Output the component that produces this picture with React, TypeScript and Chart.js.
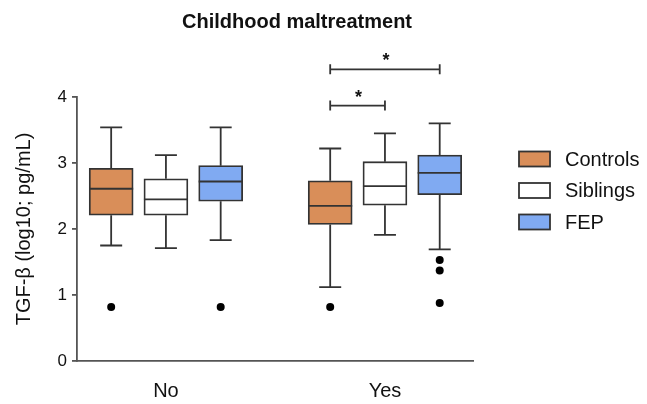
import { useEffect, useRef } from 'react';
import { Chart, registerables } from 'chart.js';

Chart.register(...registerables);

const chartTitle = 'Childhood maltreatment';
const yAxisTitle = 'TGF-β (log10; pg/mL)';
const categories = ['No', 'Yes'];
const seriesNames = ['Controls', 'Siblings', 'FEP'];
const seriesColors = ['#D98E59', '#FFFFFF', '#80AAF2'];
const yTicks = [0, 1, 2, 3, 4];

// values per category: [No, Yes]
const controlsMin = [1.75, 1.12];
const controlsQ1 = [2.21, 2.07];
const controlsMedian = [2.61, 2.35];
const controlsQ3 = [2.92, 2.73];
const controlsMax = [3.54, 3.22];
const controlsOutliers = [[0.82], [0.82]];

const siblingsMin = [1.71, 1.91];
const siblingsQ1 = [2.21, 2.36];
const siblingsMedian = [2.45, 2.65];
const siblingsQ3 = [2.76, 3.02];
const siblingsMax = [3.12, 3.45];
const siblingsOutliers: number[][] = [[], []];

const fepMin = [1.83, 1.69];
const fepQ1 = [2.42, 2.52];
const fepMedian = [2.72, 2.85];
const fepQ3 = [2.96, 3.12];
const fepMax = [3.54, 3.6];
const fepOutliers = [[0.82], [1.53, 1.37, 0.88]];

// significance comparisons within a category: series index from -> to, at a bracket level
const compCategory = [1, 1];
const compFrom = [0, 0];
const compTo = [2, 1];
const compLevel = [4.42, 3.87];
const compLabel = ['*', '*'];

const stats = [
  { min: controlsMin, q1: controlsQ1, med: controlsMedian, q3: controlsQ3, max: controlsMax, out: controlsOutliers },
  { min: siblingsMin, q1: siblingsQ1, med: siblingsMedian, q3: siblingsQ3, max: siblingsMax, out: siblingsOutliers },
  { min: fepMin, q1: fepQ1, med: fepMedian, q3: fepQ3, max: fepMax, out: fepOutliers },
];

const OFFSETS = [-0.25, 0, 0.25];
const FONT = '"Liberation Sans", Arial, Helvetica, sans-serif';
const LINE = '#333333';
const LW = 1.8;

const boxPlugin = {
  id: 'boxExtras',
  beforeDatasetsDraw(chart: any) {
    const { ctx, scales } = chart;
    const xs = scales.x, ys = scales.y;
    ctx.save();
    ctx.strokeStyle = LINE;
    ctx.lineWidth = LW;
    stats.forEach((s, i) => {
      categories.forEach((_, g) => {
        const x = xs.getPixelForValue(g + OFFSETS[i]);
        const capHalf = 11;
        const yMin = ys.getPixelForValue(s.min[g]);
        const yMax = ys.getPixelForValue(s.max[g]);
        const yQ1 = ys.getPixelForValue(s.q1[g]);
        const yQ3 = ys.getPixelForValue(s.q3[g]);
        ctx.beginPath();
        ctx.moveTo(x, yQ1); ctx.lineTo(x, yMin);
        ctx.moveTo(x - capHalf, yMin); ctx.lineTo(x + capHalf, yMin);
        ctx.moveTo(x, yQ3); ctx.lineTo(x, yMax);
        ctx.moveTo(x - capHalf, yMax); ctx.lineTo(x + capHalf, yMax);
        ctx.stroke();
      });
    });
    ctx.restore();
  },
  afterDatasetsDraw(chart: any) {
    const { ctx, scales } = chart;
    const xs = scales.x, ys = scales.y;
    ctx.save();
    ctx.strokeStyle = LINE;
    ctx.lineWidth = LW;
    stats.forEach((s, i) => {
      categories.forEach((_, g) => {
        const x = xs.getPixelForValue(g + OFFSETS[i]);
        const half = 22;
        const y = ys.getPixelForValue(s.med[g]);
        ctx.beginPath();
        ctx.moveTo(x - half, y); ctx.lineTo(x + half, y);
        ctx.stroke();
      });
    });
    // significance brackets
    compLevel.forEach((lvl, k) => {
      const g = compCategory[k];
      const x1 = xs.getPixelForValue(g + OFFSETS[compFrom[k]]);
      const x2 = xs.getPixelForValue(g + OFFSETS[compTo[k]]);
      const y = ys.getPixelForValue(lvl);
      ctx.beginPath();
      ctx.moveTo(x1, y); ctx.lineTo(x2, y);
      ctx.moveTo(x1, y - 5); ctx.lineTo(x1, y + 5);
      ctx.moveTo(x2, y - 5); ctx.lineTo(x2, y + 5);
      ctx.stroke();
      ctx.fillStyle = '#111';
      ctx.font = `bold 18px ${FONT}`;
      ctx.textAlign = 'center';
      ctx.textBaseline = 'middle';
      ctx.fillText(compLabel[k], (x1 + x2) / 2 + 1, y - 8);
    });
    ctx.restore();
  },
  afterDraw(chart: any) {
    const { ctx } = chart;
    ctx.save();
    // title
    ctx.fillStyle = '#111';
    ctx.font = `bold 20px ${FONT}`;
    ctx.textAlign = 'center';
    ctx.textBaseline = 'middle';
    ctx.fillText(chartTitle, 297, 22);
    // legend
    seriesNames.forEach((name, i) => {
      const cy = 159 + i * 31.5;
      ctx.fillStyle = seriesColors[i];
      ctx.fillRect(519, cy - 7.5, 31, 15);
      ctx.strokeStyle = LINE;
      ctx.lineWidth = LW;
      ctx.strokeRect(519, cy - 7.5, 31, 15);
      ctx.fillStyle = '#111';
      ctx.font = `20px ${FONT}`;
      ctx.textAlign = 'left';
      ctx.textBaseline = 'middle';
      ctx.fillText(name, 565, cy + 1);
    });
    ctx.restore();
  },
};

export default function App() {
  const ref = useRef<HTMLCanvasElement | null>(null);
  useEffect(() => {
    if (!ref.current) return;
    const boxDatasets = stats.map((s, i) => ({
      type: 'bar' as const,
      label: seriesNames[i],
      data: categories.map((_, g) => ({ x: g + OFFSETS[i], y: [s.q1[g], s.q3[g]] })),
      backgroundColor: seriesColors[i],
      borderColor: LINE,
      borderWidth: LW,
      borderSkipped: false,
      barThickness: 44,
      grouped: false,
    }));
    const outlierData: { x: number; y: number }[] = [];
    stats.forEach((s, i) => {
      s.out.forEach((arr, g) => arr.forEach((v) => outlierData.push({ x: g + OFFSETS[i], y: v })));
    });
    const chart = new Chart(ref.current, {
      type: 'bar',
      data: {
        datasets: [
          ...boxDatasets,
          {
            type: 'scatter' as const,
            label: 'Outliers',
            data: outlierData,
            backgroundColor: '#000',
            borderWidth: 0,
            pointRadius: 4,
          } as any,
        ],
      },
      options: {
        responsive: false,
        animation: false,
        layout: { padding: { top: 97, right: 174, bottom: 0, left: 0 } },
        plugins: { legend: { display: false }, tooltip: { enabled: false }, title: { display: false } },
        scales: {
          x: {
            type: 'linear',
            offset: false,
            min: -0.406,
            max: 1.402,
            afterBuildTicks: (s: any) => {
              s.ticks = categories.map((_, i) => ({ value: i }));
            },
            afterFit: (s: any) => {
              s.height = 43;
            },
            ticks: {
              callback: (v: any) => categories[v] ?? '',
              font: { family: FONT, size: 20 },
              color: '#111',
              padding: 18,
              autoSkip: false,
              maxRotation: 0,
            },
            grid: { display: false, drawTicks: false },
            border: { color: '#555', width: 1.8 },
          },
          y: {
            min: 0,
            max: 4,
            afterBuildTicks: (s: any) => {
              s.ticks = yTicks.map((v) => ({ value: v }));
            },
            afterFit: (s: any) => {
              s.width = 77;
            },
            ticks: { font: { family: FONT, size: 17 }, color: '#111', padding: 5 },
            grid: { drawOnChartArea: false, tickLength: 5, color: '#555', lineWidth: 1.8 },
            border: { color: '#555', width: 1.8 },
            title: {
              display: true,
              text: yAxisTitle,
              font: { family: FONT, size: 20 },
              color: '#111',
              padding: { top: 12, bottom: 0 },
            },
          },
        },
      },
      plugins: [boxPlugin],
    } as any);
    return () => chart.destroy();
  }, []);
  return (
    <div style={{ position: 'fixed', left: 0, top: 0, width: 647, height: 404, background: '#fff' }}>
      <canvas ref={ref} width={647} height={404} style={{ width: 647, height: 404 }} />
    </div>
  );
}
